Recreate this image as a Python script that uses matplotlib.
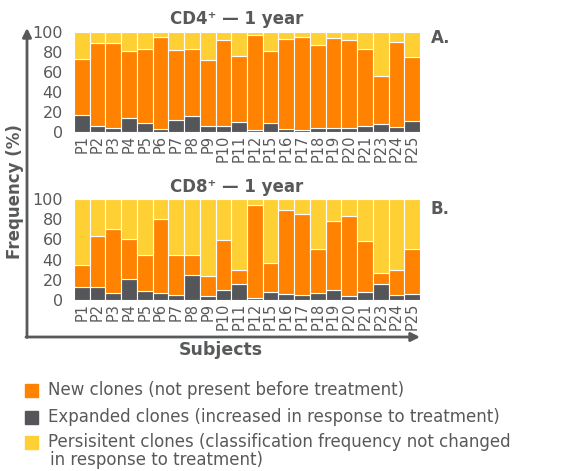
import matplotlib
matplotlib.use("Agg")
import matplotlib.pyplot as plt
from matplotlib.patches import Rectangle
import numpy as np

subjects = ["P1", "P2", "P3", "P4", "P5", "P6", "P7", "P8", "P9", "P10", "P11", "P12",
            "P15", "P16", "P17", "P18", "P19", "P20", "P21", "P23", "P24", "P25"]

# CD4+ : expanded (bottom), top of new clones (cumulative)
cd4_expanded = [17, 6, 4, 14, 9, 3, 12, 16, 6, 6, 10, 2, 9, 3, 2, 4, 4, 4, 6, 8, 5, 11]
cd4_new_top = [73, 89, 89, 81, 83, 95, 82, 83, 72, 92, 76, 97, 81, 93, 95, 87, 94, 92, 83, 56, 90, 75]

# CD8+
cd8_expanded = [13, 13, 7, 21, 9, 7, 5, 25, 4, 10, 16, 2, 8, 6, 5, 7, 10, 4, 8, 16, 5, 6]
cd8_new_top = [35, 63, 70, 60, 45, 80, 45, 45, 24, 59, 30, 94, 37, 89, 85, 50, 78, 83, 58, 27, 30, 50]

ORANGE = "#FF8300"
DARK = "#55565A"
YELLOW = "#FFD033"
GRAY = "#58595B"

W, H = 564, 471
fig = plt.figure(figsize=(W / 100, H / 100), dpi=100)


def px_axes(x0, y0, x1, y1):
    return fig.add_axes([x0 / W, 1 - y1 / H, (x1 - x0) / W, (y1 - y0) / H])


def draw_panel(ax, expanded, new_top):
    exp = np.array(expanded, float)
    top = np.array(new_top, float)
    new = top - exp
    pers = 100 - top
    x = np.arange(len(subjects))
    kw = dict(width=1.0, edgecolor="white", linewidth=0.8)
    ax.bar(x, exp, color=DARK, **kw)
    ax.bar(x, new, bottom=exp, color=ORANGE, **kw)
    ax.bar(x, pers, bottom=top, color=YELLOW, **kw)
    ax.set_xlim(-0.5, len(subjects) - 0.5)
    ax.set_ylim(0, 100)
    ax.set_yticks([0, 20, 40, 60, 80, 100])
    ax.set_xticks(x)
    ax.set_xticklabels(subjects, rotation=90, fontsize=10.5, color=GRAY)
    ax.tick_params(axis="y", length=0, pad=8, labelsize=11.5, labelcolor=GRAY)
    ax.tick_params(axis="x", length=0, pad=2)
    for s in ax.spines.values():
        s.set_visible(False)


ax1 = px_axes(74, 32, 420, 132)
draw_panel(ax1, cd4_expanded, cd4_new_top)
ax2 = px_axes(74, 199, 420, 300)
draw_panel(ax2, cd8_expanded, cd8_new_top)

# overlay for annotations
ov = fig.add_axes([0, 0, 1, 1], zorder=-1)
ov.set_xlim(0, W)
ov.set_ylim(H, 0)
ov.axis("off")

ov.annotate("", xy=(27, 28), xytext=(27, 337.5),
            arrowprops=dict(arrowstyle="-|>", lw=2, color=GRAY, mutation_scale=13,
                            shrinkA=0, shrinkB=0))
ov.annotate("", xy=(420, 337), xytext=(26, 337),
            arrowprops=dict(arrowstyle="-|>", lw=2, color=GRAY, mutation_scale=13,
                            shrinkA=0, shrinkB=0))

ov.text(15, 192, "Frequency (%)", rotation=90, ha="center", va="center",
        fontsize=12, fontweight="bold", color=GRAY)
ov.text(221, 350, "Subjects", ha="center", va="center",
        fontsize=12.5, fontweight="bold", color=GRAY)

ov.text(237, 19, "CD4\u207a \u2014 1 year", ha="center", va="center",
        fontsize=12, fontweight="semibold", color=GRAY)
ov.text(237, 187, "CD8\u207a \u2014 1 year", ha="center", va="center",
        fontsize=12, fontweight="semibold", color=GRAY)
ov.text(431, 38, "A.", ha="left", va="center", fontsize=12, fontweight="bold", color=GRAY)
ov.text(431, 209, "B.", ha="left", va="center", fontsize=12, fontweight="bold", color=GRAY)

legend_items = [
    (ORANGE, "New clones (not present before treatment)", 390),
    (DARK, "Expanded clones (increased in response to treatment)", 417),
    (YELLOW, "Persisitent clones (classification frequency not changed", 442),
]
for col, lab, yc in legend_items:
    ov.add_patch(Rectangle((25, yc - 6.5), 13, 13, color=col))
    ov.text(48, yc, lab, ha="left", va="center", fontsize=12, color=GRAY)
ov.text(50, 460, "in response to treatment)", ha="left", va="center", fontsize=12, color=GRAY)

fig.savefig("out.png", dpi=100)
